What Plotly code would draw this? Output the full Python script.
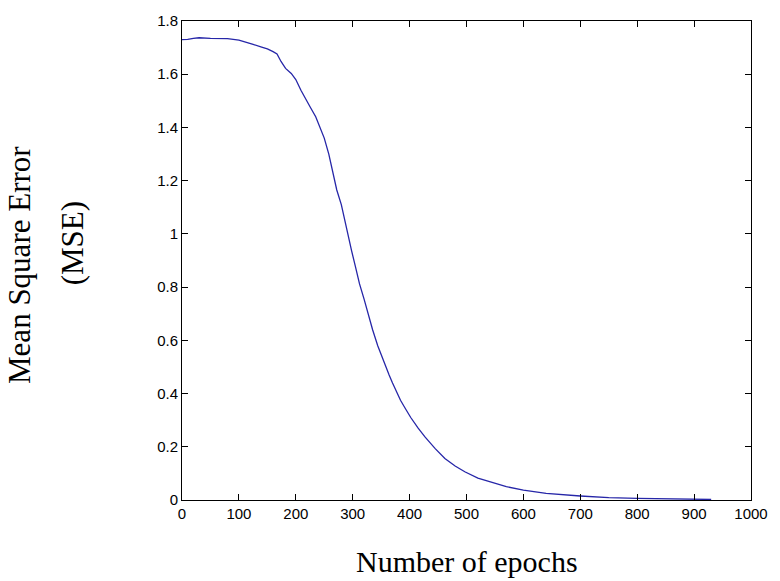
import plotly.graph_objects as go

epochs = [0, 10, 20, 30, 50, 80, 100, 111, 125, 140, 150, 160, 167, 174, 182, 192, 200,
          209, 215, 226, 235, 243, 250, 258, 266, 272, 280, 287, 298, 305, 312, 320, 327,
          335, 344, 351, 358, 364, 370, 377, 384, 393, 402, 415, 427, 445, 462, 480, 497,
          520, 548, 570, 600, 640, 700, 750, 800, 850, 900, 930]
mse = [1.730, 1.731, 1.735, 1.737, 1.735, 1.734, 1.728, 1.720, 1.712, 1.702, 1.695, 1.685,
       1.676, 1.648, 1.622, 1.603, 1.580, 1.540, 1.515, 1.474, 1.440, 1.395, 1.360, 1.300,
       1.225, 1.165, 1.110, 1.040, 0.937, 0.875, 0.812, 0.755, 0.700, 0.640, 0.580, 0.540,
       0.505, 0.470, 0.440, 0.405, 0.375, 0.342, 0.310, 0.270, 0.237, 0.193, 0.156, 0.128,
       0.106, 0.082, 0.063, 0.050, 0.037, 0.025, 0.015, 0.009, 0.006, 0.004, 0.003, 0.002]

x_title = "Number of epochs"
y_title_1 = "Mean Square Error"
y_title_2 = "(MSE)"

fig = go.Figure()
fig.add_trace(go.Scatter(x=epochs, y=mse, mode="lines",
                         line=dict(color="#2626a8", width=1.3), showlegend=False))

axis_common = dict(showline=True, linecolor="black", linewidth=1, mirror="ticks",
                   ticks="inside", ticklen=6, tickcolor="black", tickwidth=1,
                   showgrid=False, zeroline=False,
                   tickfont=dict(family="Liberation Sans, Arial", size=15, color="black"))

fig.update_xaxes(range=[0, 1000], tick0=0, dtick=100, **axis_common)
fig.update_yaxes(range=[0, 1.8], tick0=0, dtick=0.2, **axis_common)

serif = dict(family="Liberation Serif, Times New Roman", size=31, color="black")
fig.add_annotation(text=x_title, xref="paper", yref="paper", x=0.5, y=-0.128,
                   showarrow=False, font=dict(serif, size=30), xanchor="center", yanchor="middle")
fig.add_annotation(text=y_title_1, xref="paper", yref="paper", x=-0.2853, y=0.49,
                   showarrow=False, font=serif, textangle=-90, xanchor="center", yanchor="middle")
fig.add_annotation(text=y_title_2, xref="paper", yref="paper", x=-0.1922, y=0.535,
                   showarrow=False, font=serif, textangle=-90, xanchor="center", yanchor="middle")

fig.update_layout(width=780, height=581, paper_bgcolor="white", plot_bgcolor="white",
                  margin=dict(l=182, r=18, t=20, b=81))

fig.write_html("out.html", config={"displayModeBar": False},
               post_script="document.body.style.margin='0';")
